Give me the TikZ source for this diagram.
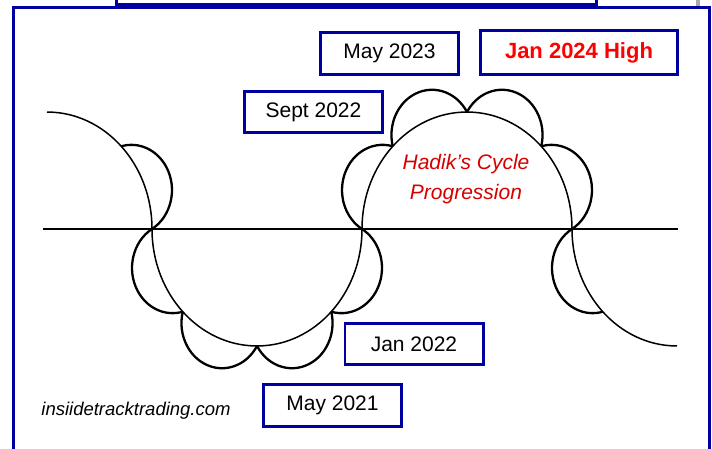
\documentclass[tikz,border=0pt]{standalone}
\usepackage{fontspec}
\setmainfont{Liberation Sans}
\definecolor{frameblue}{RGB}{0,0,160}
\definecolor{highred}{RGB}{255,0,0}
\definecolor{titlered}{RGB}{214,0,0}
\definecolor{edgegray}{RGB}{170,170,170}
\begin{document}
\begin{tikzpicture}[x=1pt,y=1pt,
  datebox/.style={draw=frameblue, line width=2.6pt, fill=white, inner sep=0pt,
    minimum width=138.4pt, minimum height=42.4pt,
    font=\fontsize{21}{25}\selectfont},
  highbox/.style={datebox, minimum width=197.4pt, minimum height=44.4pt,
    text=highred, font=\fontsize{22}{26}\selectfont\bfseries},
  bigwave/.style={line width=1.5pt},
  scallop/.style={line width=2.3pt, line join=round},
  axisline/.style={line width=1.8pt},
  frameline/.style={draw=frameblue, line width=3pt}]
\useasboundingbox (0,0) rectangle (712,448);
\clip (0,0) rectangle (712,448);
\fill[white] (0,0) rectangle (712,448);

% page frame and the box above it
\draw[frameline] (13.5,-5) -- (13.5,440.5) -- (709.5,440.5) -- (709.5,-5);
\draw[frameline, line width=2.5pt] (116.5,455) -- (116.5,443.5) -- (596.5,443.5) -- (596.5,455);
\fill[edgegray] (696,441.5) rectangle (700,448);

% time axis
\draw[axisline] (43,219) -- (678,219);

% large cycle with its sub-cycles (drawn as circles, stretched vertically)
\begin{scope}[shift={(0,219)}, yscale=1.114]
  \draw[bigwave] (47,105)
    arc[start angle=90, end angle=0, radius=105pt]
    arc[start angle=180, end angle=360, radius=105pt]
    arc[start angle=180, end angle=0, radius=105pt]
    arc[start angle=180, end angle=270, radius=105pt];
  \foreach \cx/\ph in {47/22.5, 257/202.5, 257/247.5, 257/292.5, 257/337.5,
                       467/22.5, 467/67.5, 467/112.5, 467/157.5, 677/202.5}{
    \pgfmathsetmacro\pa{\ph-22.5}
    \pgfmathsetmacro\sx{\cx+105*cos(\pa)}
    \pgfmathsetmacro\sy{105*sin(\pa)}
    \pgfmathsetmacro\sa{\ph-82}
    \pgfmathsetmacro\ea{\ph+82}
    \draw[scallop] (\sx,\sy) arc[start angle=\sa, end angle=\ea, radius=40.58pt];
  }
\end{scope}

% labels
\node[datebox] (may23) at (389.5,394.5) {May 2023};
\node[highbox] (jan24) at (579,395.5) {Jan 2024 High};
\node[datebox, minimum height=41.4pt] (sep22) at (313.5,336) {Sept 2022};
\node[datebox, minimum height=41.4pt] (jan22) at (414,104) {Jan 2022};
\node[datebox] (may21) at (332.5,42.5) {May 2021};
\node[align=center, text=titlered, inner sep=0pt,
      font=\fontsize{21}{30}\selectfont\itshape] (title) at (466,269)
      {Hadik’s Cycle\\Progression};
\node[font=\fontsize{18.5}{22}\selectfont\itshape, inner sep=0pt] (site) at (136,37)
      {insiidetracktrading.com};
\end{tikzpicture}
\end{document}
